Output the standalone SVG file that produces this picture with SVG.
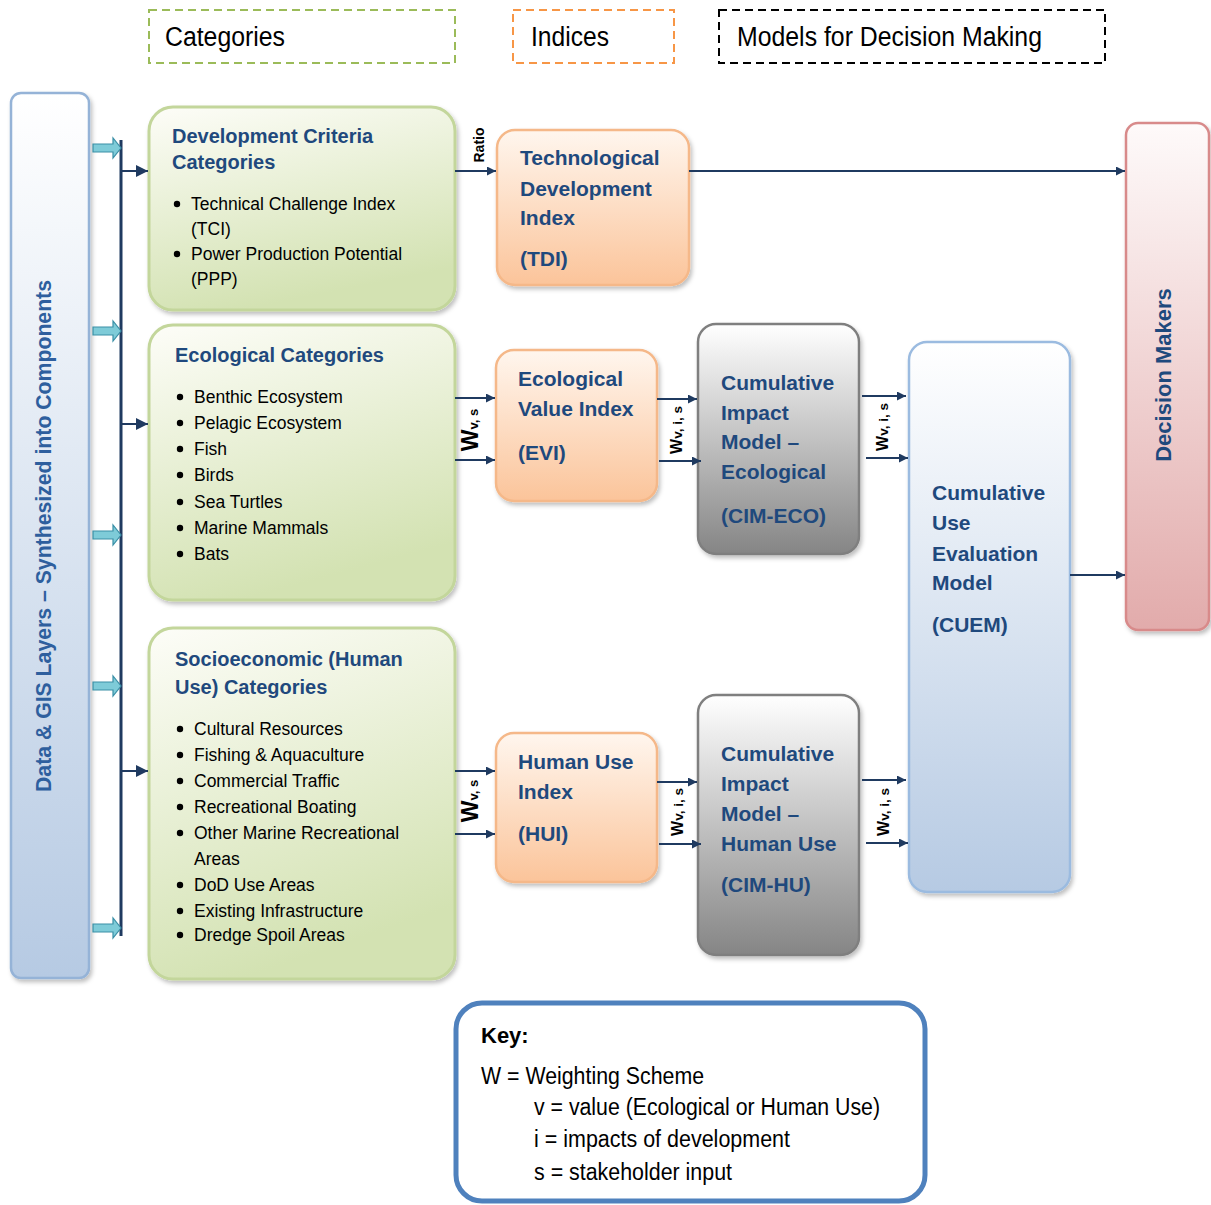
<svg xmlns="http://www.w3.org/2000/svg" width="1211" height="1205" viewBox="0 0 1211 1205">
<style>
text{font-family:"Liberation Sans",Arial,sans-serif}
.leg{font-size:27px;fill:#000}
.ttl{font-size:20px;font-weight:bold;fill:#1f497d}
.bul{font-size:17.5px;fill:#000}
.idx{font-size:21px;font-weight:bold;fill:#1f497d}
.rot{font-weight:bold;fill:#000}
.key{font-size:23px;fill:#000}
.ln{stroke:#1f3a60;stroke-width:2;fill:none}
.cy{fill:#7ecbd8;stroke:#3a8fa6;stroke-width:1.2}
</style>
<defs>
<marker id="ah" viewBox="0 0 10 10" refX="10" refY="5" markerWidth="9" markerHeight="9" markerUnits="userSpaceOnUse" orient="auto"><path d="M0,0L10,5L0,10z" fill="#1f3a60"/></marker>
<marker id="ahb" viewBox="0 0 10 10" refX="10" refY="5" markerWidth="12" markerHeight="12" markerUnits="userSpaceOnUse" orient="auto"><path d="M0,0L10,5L0,10z" fill="#1f3a60"/></marker>
<linearGradient id="gGreen" x1="0" y1="0" x2="0.3" y2="1"><stop offset="0" stop-color="#fdfdf8"/><stop offset="1" stop-color="#d3e2b2"/></linearGradient>
<linearGradient id="gOrange" x1="0" y1="0" x2="0" y2="1"><stop offset="0" stop-color="#fff6ee"/><stop offset="1" stop-color="#fbc49a"/></linearGradient>
<linearGradient id="gGrey" x1="0" y1="0" x2="0" y2="1"><stop offset="0" stop-color="#ffffff"/><stop offset="1" stop-color="#858585"/></linearGradient>
<linearGradient id="gBlue" x1="0" y1="0" x2="0" y2="1"><stop offset="0" stop-color="#ffffff"/><stop offset="1" stop-color="#b6cae3"/></linearGradient>
<linearGradient id="gPink" x1="0" y1="0" x2="0" y2="1"><stop offset="0" stop-color="#fefafa"/><stop offset="1" stop-color="#e2abab"/></linearGradient>
<filter id="sh" x="-10%" y="-10%" width="130%" height="130%"><feDropShadow dx="2" dy="3" stdDeviation="2" flood-color="#000" flood-opacity="0.25"/></filter>
</defs>
<rect width="1211" height="1205" fill="#fff"/>

<g id="legend">
<rect x="149" y="10" width="306" height="53" fill="none" stroke="#9bbb59" stroke-width="2" stroke-dasharray="8,5"/>
<text class="leg" x="165" y="46" textLength="120" lengthAdjust="spacingAndGlyphs">Categories</text>
<rect x="513" y="10" width="161" height="53" fill="none" stroke="#f79646" stroke-width="2" stroke-dasharray="8,5"/>
<text class="leg" x="531" y="46" textLength="78" lengthAdjust="spacingAndGlyphs">Indices</text>
<rect x="719" y="10" width="386" height="53" fill="none" stroke="#000" stroke-width="2" stroke-dasharray="8,5"/>
<text class="leg" x="737" y="46" textLength="305" lengthAdjust="spacingAndGlyphs">Models for Decision Making</text>
</g>

<g id="data-gis">
<rect x="11" y="93" width="78" height="885" rx="10" fill="url(#gBlue)" stroke="#95b3d7" stroke-width="2.5" filter="url(#sh)"/>
<text transform="translate(51,536) rotate(-90)" text-anchor="middle" font-size="21.5" font-weight="bold" fill="#2e5f9e" textLength="512" lengthAdjust="spacingAndGlyphs">Data &amp; GIS Layers – Synthesized into Components</text>
</g>

<g id="dev-criteria">
<rect x="149" y="107" width="306" height="203" rx="24" fill="url(#gGreen)" stroke="#c3d69b" stroke-width="3" filter="url(#sh)"/>
<text class="ttl" x="172" y="143">Development Criteria</text>
<text class="ttl" x="172" y="169">Categories</text>
<circle cx="177" cy="204" r="3.2"/><text class="bul" x="191" y="210">Technical Challenge Index</text>
<text class="bul" x="191" y="235">(TCI)</text>
<circle cx="177" cy="254" r="3.2"/><text class="bul" x="191" y="260">Power Production Potential</text>
<text class="bul" x="191" y="285">(PPP)</text>
</g>

<g id="eco-categories">
<rect x="149" y="325" width="306" height="275" rx="24" fill="url(#gGreen)" stroke="#c3d69b" stroke-width="3" filter="url(#sh)"/>
<text class="ttl" x="175" y="362">Ecological Categories</text>
<circle cx="180" cy="397" r="3.2"/><text class="bul" x="194" y="403">Benthic Ecosystem</text>
<circle cx="180" cy="423" r="3.2"/><text class="bul" x="194" y="429">Pelagic Ecosystem</text>
<circle cx="180" cy="449" r="3.2"/><text class="bul" x="194" y="455">Fish</text>
<circle cx="180" cy="475" r="3.2"/><text class="bul" x="194" y="481">Birds</text>
<circle cx="180" cy="502" r="3.2"/><text class="bul" x="194" y="508">Sea Turtles</text>
<circle cx="180" cy="528" r="3.2"/><text class="bul" x="194" y="534">Marine Mammals</text>
<circle cx="180" cy="554" r="3.2"/><text class="bul" x="194" y="560">Bats</text>
</g>

<g id="socio-categories">
<rect x="149" y="628" width="306" height="351" rx="24" fill="url(#gGreen)" stroke="#c3d69b" stroke-width="3" filter="url(#sh)"/>
<text class="ttl" x="175" y="666">Socioeconomic (Human</text>
<text class="ttl" x="175" y="694">Use) Categories</text>
<circle cx="180" cy="729" r="3.2"/><text class="bul" x="194" y="735">Cultural Resources</text>
<circle cx="180" cy="755" r="3.2"/><text class="bul" x="194" y="761">Fishing &amp; Aquaculture</text>
<circle cx="180" cy="781" r="3.2"/><text class="bul" x="194" y="787">Commercial Traffic</text>
<circle cx="180" cy="807" r="3.2"/><text class="bul" x="194" y="813">Recreational Boating</text>
<circle cx="180" cy="833" r="3.2"/><text class="bul" x="194" y="839">Other Marine Recreational</text>
<text class="bul" x="194" y="865">Areas</text>
<circle cx="180" cy="885" r="3.2"/><text class="bul" x="194" y="891">DoD Use Areas</text>
<circle cx="180" cy="911" r="3.2"/><text class="bul" x="194" y="917">Existing Infrastructure</text>
<circle cx="180" cy="935" r="3.2"/><text class="bul" x="194" y="941">Dredge Spoil Areas</text>
</g>

<g id="tdi">
<rect x="497" y="130" width="192" height="155" rx="18" fill="url(#gOrange)" stroke="#f5b889" stroke-width="2.5" filter="url(#sh)"/>
<text class="idx" x="520" y="165">Technological</text>
<text class="idx" x="520" y="196">Development</text>
<text class="idx" x="520" y="225">Index</text>
<text class="idx" x="520" y="266">(TDI)</text>
</g>

<g id="evi">
<rect x="496" y="350" width="161" height="151" rx="18" fill="url(#gOrange)" stroke="#f5b889" stroke-width="2.5" filter="url(#sh)"/>
<text class="idx" x="518" y="386">Ecological</text>
<text class="idx" x="518" y="416">Value Index</text>
<text class="idx" x="518" y="460">(EVI)</text>
</g>

<g id="hui">
<rect x="496" y="733" width="161" height="149" rx="18" fill="url(#gOrange)" stroke="#f5b889" stroke-width="2.5" filter="url(#sh)"/>
<text class="idx" x="518" y="769">Human Use</text>
<text class="idx" x="518" y="799">Index</text>
<text class="idx" x="518" y="841">(HUI)</text>
</g>

<g id="cim-eco">
<rect x="698" y="324" width="161" height="230" rx="18" fill="url(#gGrey)" stroke="#7f7f7f" stroke-width="2.5" filter="url(#sh)"/>
<text class="idx" x="721" y="390">Cumulative</text>
<text class="idx" x="721" y="420">Impact</text>
<text class="idx" x="721" y="449">Model –</text>
<text class="idx" x="721" y="479">Ecological</text>
<text class="idx" x="721" y="523">(CIM-ECO)</text>
</g>

<g id="cim-hu">
<rect x="698" y="695" width="161" height="260" rx="18" fill="url(#gGrey)" stroke="#7f7f7f" stroke-width="2.5" filter="url(#sh)"/>
<text class="idx" x="721" y="761">Cumulative</text>
<text class="idx" x="721" y="791">Impact</text>
<text class="idx" x="721" y="821">Model –</text>
<text class="idx" x="721" y="851">Human Use</text>
<text class="idx" x="721" y="892">(CIM-HU)</text>
</g>

<g id="cuem">
<rect x="909" y="342" width="161" height="550" rx="18" fill="url(#gBlue)" stroke="#9bbbe0" stroke-width="2.5" filter="url(#sh)"/>
<text class="idx" x="932" y="500">Cumulative</text>
<text class="idx" x="932" y="530">Use</text>
<text class="idx" x="932" y="561">Evaluation</text>
<text class="idx" x="932" y="590">Model</text>
<text class="idx" x="932" y="632">(CUEM)</text>
</g>

<g id="decision-makers">
<rect x="1126" y="123" width="83" height="507" rx="12" fill="url(#gPink)" stroke="#d88a8a" stroke-width="2.5" filter="url(#sh)"/>
<text transform="translate(1171,375) rotate(-90)" text-anchor="middle" font-size="22" font-weight="bold" fill="#1f497d">Decision Makers</text>
</g>

<g id="key">
<rect x="456" y="1003" width="469" height="198" rx="26" fill="#fff" stroke="#4f81bd" stroke-width="5"/>
<text x="481" y="1043" font-size="22" font-weight="bold" fill="#000">Key:</text>
<text class="key" x="481" y="1084" textLength="223" lengthAdjust="spacingAndGlyphs">W = Weighting Scheme</text>
<text class="key" x="534" y="1115" textLength="346" lengthAdjust="spacingAndGlyphs">v = value (Ecological or Human Use)</text>
<text class="key" x="534" y="1147" textLength="256" lengthAdjust="spacingAndGlyphs">i = impacts of development</text>
<text class="key" x="534" y="1180" textLength="198" lengthAdjust="spacingAndGlyphs">s = stakeholder input</text>
</g>

<g id="connectors">
<line x1="121" y1="140" x2="121" y2="936" stroke="#1f3a60" stroke-width="3"/>
<path class="cy" d="M93,144h20v-6l8,10l-8,10v-6h-20z"/>
<path class="cy" d="M93,327h20v-6l8,10l-8,10v-6h-20z"/>
<path class="cy" d="M93,531h20v-6l8,10l-8,10v-6h-20z"/>
<path class="cy" d="M93,682h20v-6l8,10l-8,10v-6h-20z"/>
<path class="cy" d="M93,924h20v-6l8,10l-8,10v-6h-20z"/>
<line class="ln" x1="121" y1="171" x2="148" y2="171" stroke-width="2.5" marker-end="url(#ahb)"/>
<line class="ln" x1="121" y1="424" x2="148" y2="424" stroke-width="2.5" marker-end="url(#ahb)"/>
<line class="ln" x1="121" y1="771" x2="148" y2="771" stroke-width="2.5" marker-end="url(#ahb)"/>

<line class="ln" x1="455" y1="171" x2="496" y2="171" marker-end="url(#ah)"/>
<text class="rot" transform="translate(484,145) rotate(-90)" text-anchor="middle" font-size="14">Ratio</text>
<line class="ln" x1="689" y1="171" x2="1125" y2="171" marker-end="url(#ah)"/>

<line class="ln" x1="455" y1="398" x2="495" y2="398" marker-end="url(#ah)"/>
<line class="ln" x1="455" y1="460" x2="495" y2="460" marker-end="url(#ah)"/>
<text class="rot" transform="translate(478,430) rotate(-90)" text-anchor="middle"><tspan font-size="23">W</tspan><tspan font-size="13">v, s</tspan></text>

<line class="ln" x1="657" y1="399" x2="697" y2="399" marker-end="url(#ah)"/>
<line class="ln" x1="659" y1="461" x2="701" y2="461" marker-end="url(#ah)"/>
<text class="rot" transform="translate(682,430) rotate(-90)" text-anchor="middle"><tspan font-size="16">W</tspan><tspan font-size="13.5">v, i, s</tspan></text>

<line class="ln" x1="862" y1="396" x2="906" y2="396" marker-end="url(#ah)"/>
<line class="ln" x1="866" y1="458" x2="908" y2="458" marker-end="url(#ah)"/>
<text class="rot" transform="translate(888,427) rotate(-90)" text-anchor="middle"><tspan font-size="16">W</tspan><tspan font-size="13.5">v, i, s</tspan></text>

<line class="ln" x1="455" y1="771" x2="495" y2="771" marker-end="url(#ah)"/>
<line class="ln" x1="455" y1="834" x2="495" y2="834" marker-end="url(#ah)"/>
<text class="rot" transform="translate(478,801) rotate(-90)" text-anchor="middle"><tspan font-size="23">W</tspan><tspan font-size="13">v, s</tspan></text>

<line class="ln" x1="657" y1="782" x2="697" y2="782" marker-end="url(#ah)"/>
<line class="ln" x1="659" y1="844" x2="701" y2="844" marker-end="url(#ah)"/>
<text class="rot" transform="translate(683,812) rotate(-90)" text-anchor="middle"><tspan font-size="16">W</tspan><tspan font-size="13.5">v, i, s</tspan></text>

<line class="ln" x1="862" y1="780" x2="906" y2="780" marker-end="url(#ah)"/>
<line class="ln" x1="866" y1="843" x2="908" y2="843" marker-end="url(#ah)"/>
<text class="rot" transform="translate(889,812) rotate(-90)" text-anchor="middle"><tspan font-size="16">W</tspan><tspan font-size="13.5">v, i, s</tspan></text>

<line class="ln" x1="1070" y1="575" x2="1125" y2="575" marker-end="url(#ah)"/>
</g>
</svg>
